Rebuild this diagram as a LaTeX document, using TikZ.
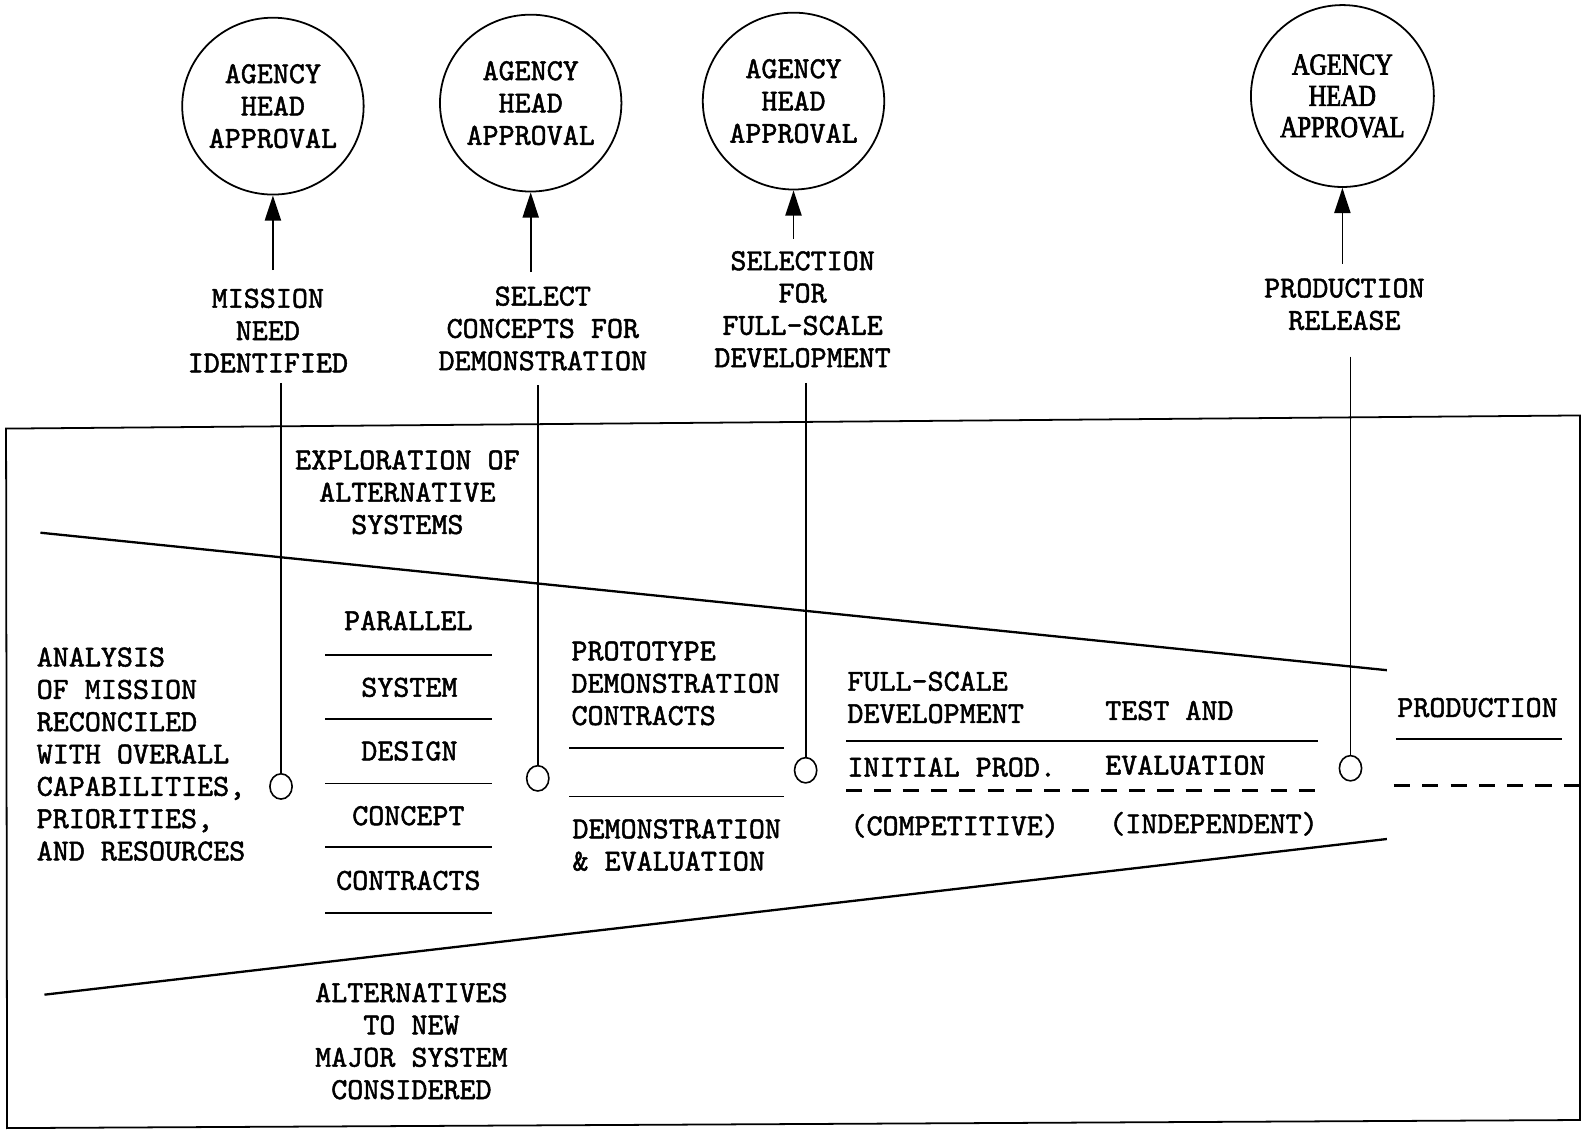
\documentclass[tikz,border=0pt]{standalone}
\usepackage{fontspec}
\setmainfont{lmmono10-regular.otf}[FakeBold=1.6]
\newfontfamily\printfont{Liberation Serif}[FakeStretch=0.8,FakeBold=2.5]
\usetikzlibrary{shapes.geometric,arrows.meta}

\begin{document}
\begin{tikzpicture}[x=0.02cm,y=-0.02cm,
	every node/.style={font=\fontsize{17.2}{18.2}\selectfont, inner sep=0pt},
	approval/.style={ellipse, draw, line width=1pt, minimum width=3.58cm, minimum height=3.5cm, align=center},
	gate/.style={ellipse, draw, line width=0.9pt, minimum width=0.44cm, minimum height=0.5cm},
	arr/.style={-{Triangle[length=0.5cm,width=0.32cm]}, line width=1pt},
	rule/.style={line width=1pt},
	split/.style={line width=1.3pt},
	dashrule/.style={line width=1.3pt, dash pattern=on 0.32cm off 0.24cm}
	]
		
		\useasboundingbox (0,0) rectangle (1568,1118);
		
		\draw[rule] (6,424) -- (1563,411) -- (1563,1108) -- (7,1116) -- cycle;
		
		\node[approval] (ahaA) at (270,105) {AGENCY\\HEAD\\APPROVAL};
		\node[approval] (ahaB) at (525,102) {AGENCY\\HEAD\\APPROVAL};
		\node[approval] (ahaC) at (785,100) {AGENCY\\HEAD\\APPROVAL};
		\node[approval, minimum width=3.62cm, minimum height=3.6cm, font=\printfont\fontsize{17}{17.6}\selectfont] (ahaD) at (1328,95) {AGENCY\\HEAD\\APPROVAL};
		
		\node[align=center] (msA) at (265,327) {MISSION\\NEED\\IDENTIFIED};
		\node[align=center] (msB) at (537,325) {SELECT\\CONCEPTS FOR\\DEMONSTRATION};
		\node[align=center] (msC) at (794,306) {SELECTION\\FOR\\FULL-SCALE\\DEVELOPMENT};
		\node[align=center] (msD) at (1330,301) {PRODUCTION\\RELEASE};
		
		\draw[arr] ([yshift=0.36cm]ahaA.south |- msA.north) -- (ahaA.south);
		\draw[arr] ([yshift=0.28cm]ahaB.south |- msB.north) -- (ahaB.south);
		\draw[arr] ([yshift=0.24cm]ahaC.south |- msC.north) -- (ahaC.south);
		\draw[arr] ([yshift=0.28cm]ahaD.south |- msD.north) -- (ahaD.south);
		
		\node[gate] (dotA) at (278,778) {};
		\node[gate] (dotB) at (532,770) {};
		\node[gate] (dotC) at (797,762) {};
		\node[gate] (dotD) at (1336,760) {};
		
		\draw[rule] ([yshift=-0.2cm]dotA.north |- msA.south) -- (dotA.north);
		\draw[rule] ([yshift=-0.28cm]dotB.north |- msB.south) -- (dotB.north);
		\draw[rule] ([yshift=-0.3cm]dotC.north |- msC.south) -- (dotC.north);
		\draw[rule] ([yshift=-0.52cm]dotD.north |- msD.south) -- (dotD.north);
		
		\draw[split] (40,527) -- (1372,663);
		\draw[split] (44,984) -- (1372,830);
		
		\node[align=center] (explore) at (403,487) {EXPLORATION OF\\ALTERNATIVE\\SYSTEMS};
		\node[align=center] (others) at (407,1030) {ALTERNATIVES\\TO NEW\\MAJOR SYSTEM\\CONSIDERED};
		\node[anchor=west, align=left] (analysis) at (36,746) {ANALYSIS\\OF MISSION\\RECONCILED\\WITH OVERALL\\CAPABILITIES,\\PRIORITIES,\\AND RESOURCES};
		
		\node[] (parallel) at (404,614) {PARALLEL};
		\node[] (system) at (405,680) {SYSTEM};
		\node[] (design) at (405,743) {DESIGN};
		\node[] (concept) at (404,807) {CONCEPT};
		\node[] (contracts) at (404,871) {CONTRACTS};
		\draw[rule] (322,648) -- (487,648);
		\draw[rule] (322,711) -- (487,711);
		\draw[rule] (322,775) -- (487,775);
		\draw[rule] (322,838) -- (487,838);
		\draw[rule] (322,903) -- (487,903);
		
		\node[anchor=west, align=left] (proto) at (565,676) {PROTOTYPE\\DEMONSTRATION\\CONTRACTS};
		\node[anchor=west, align=left] (demo) at (566,836) {DEMONSTRATION\\\& EVALUATION};
		\draw[rule] (563,740) -- (776,740);
		\draw[rule] (563,788) -- (776,788);
		
		\node[anchor=west, align=left] (fsd) at (838,690) {FULL-SCALE\\DEVELOPMENT};
		\node[anchor=west] (test) at (1093,703) {TEST AND};
		\node[anchor=west] (initial) at (838,759) {INITIAL PROD.};
		\node[anchor=west] (evaluation) at (1093,757) {EVALUATION};
		\node[anchor=west] (competitive) at (841,817) {(COMPETITIVE)};
		\node[anchor=west] (independent) at (1097,815) {(INDEPENDENT)};
		\draw[rule] (837,733) -- (1304,733);
		\draw[dashrule] (837,782) -- (1302,782);
		
		\node[anchor=west] (production) at (1382,700) {PRODUCTION};
		\draw[rule] (1381,731) -- (1545,731);
		\draw[dashrule] (1379,777) -- (1563,777);
		
	\end{tikzpicture}
\end{document}
